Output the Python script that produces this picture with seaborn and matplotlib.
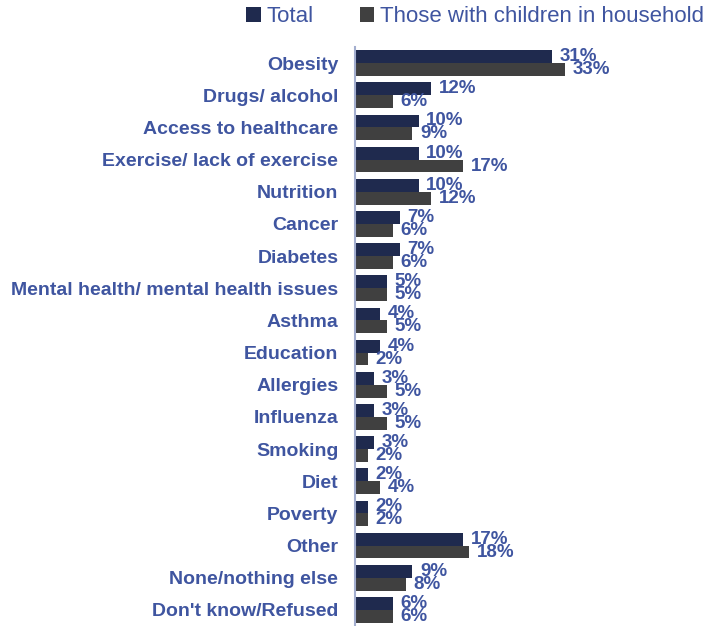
import matplotlib
matplotlib.use("Agg")
import matplotlib.pyplot as plt
import matplotlib.patches as mpatches
import seaborn as sns
import pandas as pd
import numpy as np

categories = [
    "Obesity", "Drugs/ alcohol", "Access to healthcare", "Exercise/ lack of exercise",
    "Nutrition", "Cancer", "Diabetes", "Mental health/ mental health issues", "Asthma",
    "Education", "Allergies", "Influenza", "Smoking", "Diet", "Poverty", "Other",
    "None/nothing else", "Don't know/Refused",
]
total = [31, 12, 10, 10, 10, 7, 7, 5, 4, 4, 3, 3, 3, 2, 2, 17, 9, 6]
children = [33, 6, 9, 17, 12, 6, 6, 5, 5, 2, 5, 5, 2, 4, 2, 18, 8, 6]
series = ["Total", "Those with children in household"]

navy = "#1F2A4E"
grey = "#404040"
text_blue = "#3F55A0"
axis_col = "#A3AECF"

df = pd.DataFrame({
    "category": categories * 2,
    "value": total + children,
    "series": [series[0]] * len(categories) + [series[1]] * len(categories),
})

sns.set_style("white")
plt.rcParams["font.family"] = ["Liberation Sans", "DejaVu Sans"]

fig = plt.figure(figsize=(7.05, 6.26), dpi=100)
ax = fig.add_axes([355 / 705, 0.0, 350 / 705, 1 - 47 / 626])

sns.barplot(data=df, y="category", x="value", hue="series", orient="h",
            order=categories, hue_order=series, palette=[navy, grey],
            width=0.8, dodge=True, ax=ax, legend=False, saturation=1,
            linewidth=0, edgecolor="none")

for cont in ax.containers:
    ax.bar_label(cont, labels=[f"{int(v)}%" for v in cont.datavalues],
                 padding=5.5, fontsize=13.5, fontweight="bold", color=text_blue)

ax.set_xlim(0, 350 / 6.36)
ax.set_ylim(len(categories) - 0.5, -0.5)
ax.set_xlabel("")
ax.set_ylabel("")
ax.set_xticks([])

for s in ["top", "right", "bottom"]:
    ax.spines[s].set_visible(False)
ax.spines["left"].set_color(axis_col)
ax.spines["left"].set_linewidth(1.5)

ax.set_yticks(np.arange(len(categories)))
ax.set_yticklabels(categories, fontsize=14, fontweight="bold", color=text_blue)
ax.tick_params(axis="y", which="major", length=0, pad=12)
ax.set_yticks(np.arange(len(categories) + 1) - 0.5, minor=True)
ax.tick_params(axis="y", which="minor", length=5, width=1.2, color=axis_col, direction="out")

handles = [mpatches.Patch(facecolor=navy, edgecolor="none"),
           mpatches.Patch(facecolor=grey, edgecolor="none")]
leg = fig.legend(handles, series, loc="center", bbox_to_anchor=(475 / 705, 1 - 17 / 626),
                 ncol=2, frameon=False, fontsize=16, handlelength=0.65, handleheight=0.65,
                 handletextpad=0.25, columnspacing=2.1, borderpad=0)
for t in leg.get_texts():
    t.set_color(text_blue)

fig.savefig("out.png", dpi=100)
